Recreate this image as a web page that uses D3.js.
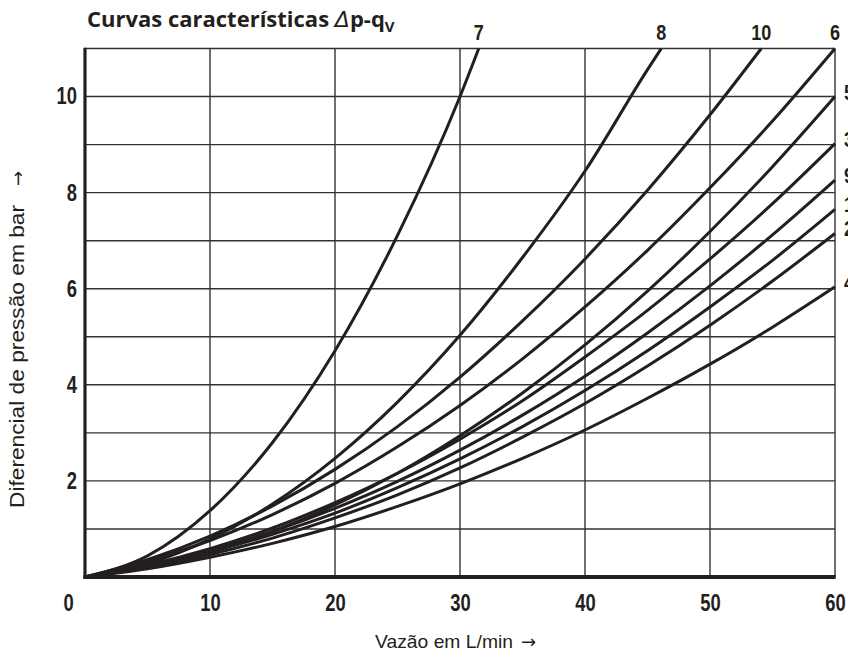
<!DOCTYPE html>
<html>
<head>
<meta charset="utf-8">
<script src="https://cdn.jsdelivr.net/npm/d3@7"></script>
<style>
  html, body { margin: 0; padding: 0; background: #fff; }
  svg { display: block; }
</style>
</head>
<body>
<svg id="chart" width="848" height="662"></svg>
<script>
// ---- data (flow q in L/min, pressure differential in bar) ----
const xTicks = [0, 10, 20, 30, 40, 50, 60];
const yTicks = [2, 4, 6, 8, 10];
const xGrid = [10, 20, 30, 40, 50];
const yGrid = [1, 2, 3, 4, 5, 6, 7, 8, 9, 10];

const curve7  = [[0,0],[5,0.44],[10,1.38],[15,2.80],[20,4.71],[25,7.11],[30,10.0],[31.5,11]];
const curve8  = [[0,0],[5,0.28],[10,0.79],[15,1.52],[20,2.47],[25,3.64],[30,5.03],[35,6.65],[40,8.45],[45,10.56],[46.1,11]];
const curve10 = [[0,0],[5,0.36],[10,0.85],[15,1.48],[20,2.24],[25,3.13],[30,4.16],[35,5.33],[40,6.62],[45,8.05],[50,9.62],[54.1,11]];

const flow = [0, 5, 10, 15, 20, 25, 30, 35, 40, 45, 50, 55, 60];
const dp6 = [0, 0.33, 0.76, 1.30, 1.95, 2.71, 3.57, 4.54, 5.62, 6.80, 8.10, 9.49, 11.0];
const dp5 = [0, 0.20, 0.52, 0.95, 1.50, 2.16, 2.94, 3.83, 4.83, 5.95, 7.19, 8.54, 10.0];
const dp3 = [0, 0.25, 0.59, 1.02, 1.55, 2.16, 2.87, 3.67, 4.58, 5.55, 6.62, 7.77, 9.02];
const dp9 = [0, 0.23, 0.55, 0.95, 1.43, 1.99, 2.64, 3.37, 4.18, 5.08, 6.06, 7.12, 8.26];
const dp1 = [0, 0.22, 0.52, 0.89, 1.33, 1.86, 2.46, 3.13, 3.88, 4.71, 5.62, 6.59, 7.65];
const dp2 = [0, 0.20, 0.47, 0.81, 1.23, 1.71, 2.27, 2.91, 3.61, 4.39, 5.24, 6.16, 7.15];
const dp4 = [0, 0.17, 0.41, 0.70, 1.05, 1.47, 1.94, 2.47, 3.06, 3.72, 4.43, 5.20, 6.04];

const topLabels = ["7", "8", "10", "6"];
const rightLabels = ["5", "3", "9", "1", "2", "4"];

const titleMain = "Curvas características ";
const xTitle = "Vazão em L/min";
const yTitle = "Diferencial de pressão em bar";
const arrow = "\u2192";

// ---- build ----
const svg = d3.select("#chart");
const x = d3.scaleLinear().domain([0, 60]).range([85, 835]);
const y = d3.scaleLinear().domain([0, 11]).range([577, 48.5]);
const ink = "#231f20";
const gridInk = "#333";
const boldFont = "'Liberation Sans', Arial, sans-serif";
const lightFont = "'Liberation Sans', Arial, sans-serif";

const zip = arr => flow.map((q, i) => [q, arr[i]]);
const topSeries = [curve7, curve8, curve10, zip(dp6)];
const rightSeries = [zip(dp5), zip(dp3), zip(dp9), zip(dp1), zip(dp2), zip(dp4)];

// grid
svg.append("g").selectAll("line").data(xGrid).join("line")
  .attr("x1", d => x(d)).attr("x2", d => x(d))
  .attr("y1", y(0)).attr("y2", y(11))
  .attr("stroke", gridInk).attr("stroke-width", 1.4);
svg.append("g").selectAll("line").data(yGrid).join("line")
  .attr("x1", x(0)).attr("x2", x(60))
  .attr("y1", d => y(d)).attr("y2", d => y(d))
  .attr("stroke", gridInk).attr("stroke-width", 1.4);
// frame top/right
svg.append("line").attr("x1", x(0)).attr("x2", x(60)).attr("y1", y(11)).attr("y2", y(11))
  .attr("stroke", gridInk).attr("stroke-width", 1.4);
svg.append("line").attr("x1", x(60)).attr("x2", x(60)).attr("y1", y(0)).attr("y2", y(11))
  .attr("stroke", gridInk).attr("stroke-width", 1.4);

// curves
const line = d3.line().x(d => x(d[0])).y(d => y(d[1])).curve(d3.curveMonotoneX);
svg.append("g").selectAll("path").data(topSeries.concat(rightSeries)).join("path")
  .attr("d", line).attr("fill", "none").attr("stroke", ink)
  .attr("stroke-width", 3).attr("stroke-linecap", "butt");

// axes lines (thick)
svg.append("line").attr("x1", x(0)).attr("x2", x(0)).attr("y1", y(0) + 2).attr("y2", y(11) - 0.7)
  .attr("stroke", ink).attr("stroke-width", 3.2);
svg.append("line").attr("x1", x(0) - 1.6).attr("x2", x(60) + 0.7).attr("y1", y(0)).attr("y2", y(0))
  .attr("stroke", ink).attr("stroke-width", 4);

// tick labels via d3 axes
const gx = svg.append("g").attr("transform", `translate(0,${y(0)})`)
  .call(d3.axisBottom(x).tickValues(xTicks).tickSize(0).tickPadding(18).tickFormat(d3.format("d")));
gx.select(".domain").remove();
gx.selectAll("text").attr("font-family", boldFont).attr("font-weight", "bold")
  .attr("font-size", 23).attr("fill", ink)
  .attr("transform", d => d === 0 ? "translate(-17,0) scale(0.8,1)" : "scale(0.8,1)");

const gy = svg.append("g").attr("transform", `translate(${x(0)},0)`)
  .call(d3.axisLeft(y).tickValues(yTicks).tickSize(0).tickPadding(0).tickFormat(d3.format("d")));
gy.select(".domain").remove();
gy.selectAll("text").attr("font-family", boldFont).attr("font-weight", "bold")
  .attr("font-size", 23).attr("fill", ink)
  .attr("x", 0)
  .attr("transform", "translate(-8,0) scale(0.8,1)");

// curve labels
svg.append("g").selectAll("text").data(topSeries).join("text")
  .attr("transform", d => `translate(${x(d[d.length - 1][0])},40) scale(0.82,1)`)
  .attr("text-anchor", "middle")
  .attr("font-family", boldFont).attr("font-weight", "bold").attr("font-size", 22)
  .attr("fill", ink)
  .text((d, i) => topLabels[i]);

svg.append("g").selectAll("text").data(rightSeries).join("text")
  .attr("transform", d => `translate(844,${y(d[d.length - 1][1]) + 3}) scale(0.82,1)`)
  .attr("font-family", boldFont).attr("font-weight", "bold").attr("font-size", 22)
  .attr("fill", ink)
  .text((d, i) => rightLabels[i]);

// title
const title = svg.append("text").attr("x", 87).attr("y", 27)
  .attr("font-family", "'Open Sans', sans-serif").attr("font-weight", "bold")
  .attr("font-size", 22).attr("fill", ink);
title.append("tspan").text(titleMain);
title.append("tspan").attr("font-style", "italic").attr("font-weight", "normal")
  .attr("font-family", "'DejaVu Sans', sans-serif").text("\u0394");
title.append("tspan").text("p-q");
title.append("tspan").attr("dy", 5).attr("font-size", 15).text("V");

// axis titles
svg.append("text").attr("x", 375).attr("y", 648)
  .attr("font-family", lightFont).attr("font-size", 19).attr("fill", ink)
  .attr("textLength", 138).attr("lengthAdjust", "spacingAndGlyphs")
  .text(xTitle);
svg.append("text").attr("x", 521).attr("y", 648)
  .attr("font-family", "'DejaVu Sans', sans-serif").attr("font-size", 18).attr("fill", ink)
  .text(arrow);

const yt = svg.append("g").attr("transform", "translate(24,0) rotate(-90)");
yt.append("text").attr("x", -508).attr("y", 0)
  .attr("font-family", lightFont).attr("font-size", 21).attr("fill", ink)
  .attr("textLength", 303).attr("lengthAdjust", "spacingAndGlyphs")
  .text(yTitle);
yt.append("text").attr("x", -186).attr("y", 0)
  .attr("font-family", "'DejaVu Sans', sans-serif").attr("font-size", 18).attr("fill", ink)
  .text(arrow);
</script>
</body>
</html>
